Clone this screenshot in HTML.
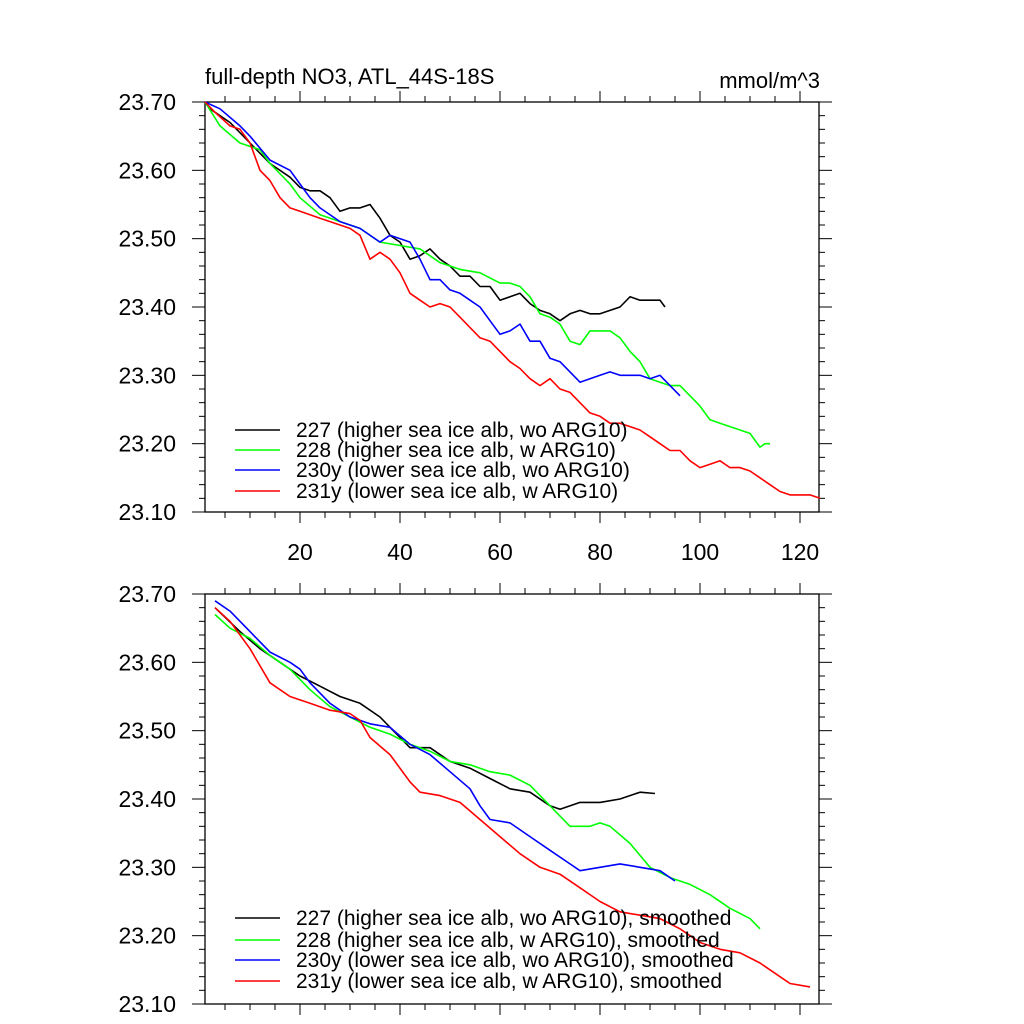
<!DOCTYPE html>
<html><head><meta charset="utf-8">
<style>
html,body{margin:0;padding:0;background:#fff;}
svg{display:block;font-family:"Liberation Sans",sans-serif;}
</style></head>
<body>
<svg id="chart" width="1024" height="1024" viewBox="0 0 1024 1024" xmlns="http://www.w3.org/2000/svg">
<text x="205" y="84" font-size="22">full-depth NO3, ATL_44S-18S</text>
<text x="820" y="88" font-size="22" text-anchor="end">mmol/m^3</text>
</svg>
<script>
// x tick labels
const xTicks = [20, 40, 60, 80, 100, 120];
const yTicks = [23.10, 23.20, 23.30, 23.40, 23.50, 23.60, 23.70];
const seriesNames = ["227", "228", "230y", "231y"];
const seriesColors = ["#000000", "#00ff00", "#0000ff", "#ff0000"];
const legendTop = ["227 (higher sea ice alb, wo ARG10)", "228 (higher sea ice alb, w ARG10)", "230y (lower sea ice alb, wo ARG10)", "231y (lower sea ice alb, w ARG10)"];
const legendBottom = ["227 (higher sea ice alb, wo ARG10), smoothed", "228 (higher sea ice alb, w ARG10), smoothed", "230y (lower sea ice alb, wo ARG10), smoothed", "231y (lower sea ice alb, w ARG10), smoothed"];

// top panel raw series
const blackX = [1,2,6,10,14,18,20,22,24,26,28,30,32,34,36,38,40,42,44,46,48,50,52,54,56,58,60,62,64,66,68,70,72,74,76,78,80,82,84,86,88,90,92,93];
const blackY = [23.70,23.69,23.67,23.64,23.61,23.59,23.575,23.57,23.57,23.56,23.54,23.545,23.545,23.55,23.53,23.505,23.495,23.47,23.475,23.485,23.47,23.46,23.445,23.445,23.43,23.43,23.41,23.415,23.42,23.405,23.395,23.39,23.38,23.39,23.395,23.39,23.39,23.395,23.40,23.415,23.41,23.41,23.41,23.40];
const greenX = [1,4,8,12,14,18,20,24,28,32,36,40,44,48,52,56,60,62,64,66,68,70,72,74,76,78,80,82,84,86,88,90,92,94,96,98,100,102,104,106,108,110,112,113,114];
const greenY = [23.70,23.665,23.64,23.63,23.61,23.58,23.56,23.535,23.525,23.515,23.495,23.49,23.485,23.465,23.455,23.45,23.435,23.435,23.43,23.415,23.39,23.385,23.375,23.35,23.345,23.365,23.365,23.365,23.355,23.335,23.32,23.295,23.29,23.285,23.285,23.27,23.255,23.235,23.23,23.225,23.22,23.215,23.195,23.20,23.20];
const blueX = [1,4,8,10,14,18,20,22,24,28,32,36,38,42,44,46,48,50,52,54,56,58,60,62,64,66,68,70,72,74,76,78,80,82,84,86,88,90,92,94,96];
const blueY = [23.70,23.69,23.665,23.65,23.615,23.60,23.58,23.56,23.545,23.525,23.515,23.495,23.505,23.495,23.47,23.44,23.44,23.425,23.42,23.41,23.40,23.38,23.36,23.365,23.375,23.35,23.35,23.325,23.32,23.305,23.29,23.295,23.30,23.305,23.30,23.30,23.30,23.295,23.30,23.285,23.27];
const redX = [1,3,6,8,10,12,14,16,18,20,22,24,26,28,30,32,34,36,38,40,42,44,46,48,50,52,54,56,58,60,62,64,66,68,70,72,74,76,78,80,82,84,86,88,90,92,94,96,98,100,102,104,106,108,110,112,114,116,118,120,122,124];
const redY = [23.70,23.685,23.665,23.66,23.64,23.60,23.585,23.56,23.545,23.54,23.535,23.53,23.525,23.52,23.515,23.505,23.47,23.48,23.47,23.45,23.42,23.41,23.40,23.405,23.40,23.385,23.37,23.355,23.35,23.335,23.32,23.31,23.295,23.285,23.295,23.28,23.275,23.26,23.245,23.24,23.23,23.23,23.225,23.22,23.21,23.20,23.19,23.19,23.175,23.165,23.17,23.175,23.165,23.165,23.16,23.15,23.14,23.13,23.125,23.125,23.125,23.12];

// bottom panel smoothed series
const sBlackX = [3,8,12,16,20,24,28,32,36,38,40,42,46,50,54,58,62,66,70,72,76,80,84,88,91];
const sBlackY = [23.68,23.645,23.62,23.60,23.58,23.565,23.55,23.54,23.52,23.505,23.49,23.475,23.475,23.455,23.445,23.43,23.415,23.41,23.39,23.385,23.395,23.395,23.40,23.41,23.408];
const sGreenX = [3,6,10,14,18,22,26,30,34,38,42,46,50,54,58,62,66,70,74,78,80,82,86,90,94,98,102,106,110,112];
const sGreenY = [23.67,23.65,23.635,23.61,23.59,23.56,23.535,23.52,23.505,23.495,23.48,23.47,23.455,23.45,23.44,23.435,23.42,23.39,23.36,23.36,23.365,23.36,23.335,23.30,23.285,23.275,23.26,23.24,23.225,23.21];
const sBlueX = [3,6,10,14,18,20,22,26,30,34,38,42,46,50,54,56,58,62,66,70,74,76,80,84,88,92,95];
const sBlueY = [23.69,23.675,23.645,23.615,23.60,23.59,23.57,23.54,23.52,23.51,23.505,23.48,23.465,23.44,23.415,23.39,23.37,23.365,23.345,23.325,23.305,23.295,23.30,23.305,23.30,23.295,23.28];
const sRedX = [3,6,10,14,18,22,26,30,32,34,38,42,44,48,52,56,60,64,68,72,76,80,84,88,92,96,100,104,108,112,116,118,122];
const sRedY = [23.68,23.66,23.62,23.57,23.55,23.54,23.53,23.525,23.515,23.49,23.465,23.425,23.41,23.405,23.395,23.37,23.345,23.32,23.30,23.29,23.27,23.25,23.235,23.23,23.225,23.21,23.19,23.18,23.175,23.16,23.14,23.13,23.125];

const NS = "http://www.w3.org/2000/svg";
const svg = document.getElementById("chart");
const X0 = 205, X1 = 819, XMIN = 1, XMAX = 123.8;
const YMIN = 23.10, YMAX = 23.70;
function xs(v){ return X0 + (v - XMIN) / (XMAX - XMIN) * (X1 - X0); }
function mk(tag, attrs){ const e = document.createElementNS(NS, tag); for (const k in attrs) e.setAttribute(k, attrs[k]); svg.appendChild(e); return e; }

function panel(top, bottom, prefix, data, legend, legY, showXLabels){
  const ys = v => bottom - (v - YMIN) / (YMAX - YMIN) * (bottom - top);
  const frame = mk("rect", {x:X0, y:top, width:X1-X0, height:bottom-top, fill:"none", stroke:"#000", "stroke-width":1.3});
  
  
  for (let i = 0; i <= 30; i++){
    const v = YMIN + i * 0.02;
    const y = ys(v);
    const major = i % 5 === 0;
    const L = major ? 13 : 6;
    const t1 = mk("line", {x1:X0-L, x2:X0, y1:y, y2:y, stroke:"#000", "stroke-width":1});
    
    
    const t2 = mk("line", {x1:X1, x2:X1+L, y1:y, y2:y, stroke:"#000", "stroke-width":1});
    
    
  }
  yTicks.forEach(v => {
    const t = mk("text", {x:176, y:ys(v)+8, "font-size":23, "text-anchor":"end"});
    t.textContent = v.toFixed(2);
    
    
  });
  for (let u = 5; u <= 120; u += 5){
    const x = xs(u);
    const major = u % 20 === 0;
    const L = major ? 11 : 6;
    const b = mk("line", {x1:x, x2:x, y1:bottom, y2:bottom+L, stroke:"#000", "stroke-width":1});
    
    
    const tp = mk("line", {x1:x, x2:x, y1:top-L, y2:top, stroke:"#000", "stroke-width":1});
    
    
  }
  if (showXLabels){
    xTicks.forEach(u => {
      const t = mk("text", {x:xs(u), y:bottom+48, "font-size":23, "text-anchor":"middle"});
      t.textContent = String(u);
      
      
    });
  }
  data.forEach((d, i) => {
    const pts = d[0].map((xv, j) => xs(xv).toFixed(1) + "," + ys(d[1][j]).toFixed(1)).join(" ");
    const p = mk("polyline", {points:pts, fill:"none", stroke:seriesColors[i], "stroke-width":1.6, "stroke-linejoin":"round"});
    
    
  });
  legend.forEach((txt, i) => {
    const y = legY[i];
    const l = mk("line", {x1:235, x2:280, y1:y, y2:y, stroke:seriesColors[i], "stroke-width":1.6});
    
    
    const t = mk("text", {x:296, y:y+7, "font-size":21});
    t.textContent = txt;
    
    
  });
}

panel(102, 512, "top", [[blackX,blackY],[greenX,greenY],[blueX,blueY],[redX,redY]], legendTop, [430,450,470,491], true);
panel(594, 1004, "bottom", [[sBlackX,sBlackY],[sGreenX,sGreenY],[sBlueX,sBlueY],[sRedX,sRedY]], legendBottom, [918,940,960,981], false);
</script>
</body></html>
